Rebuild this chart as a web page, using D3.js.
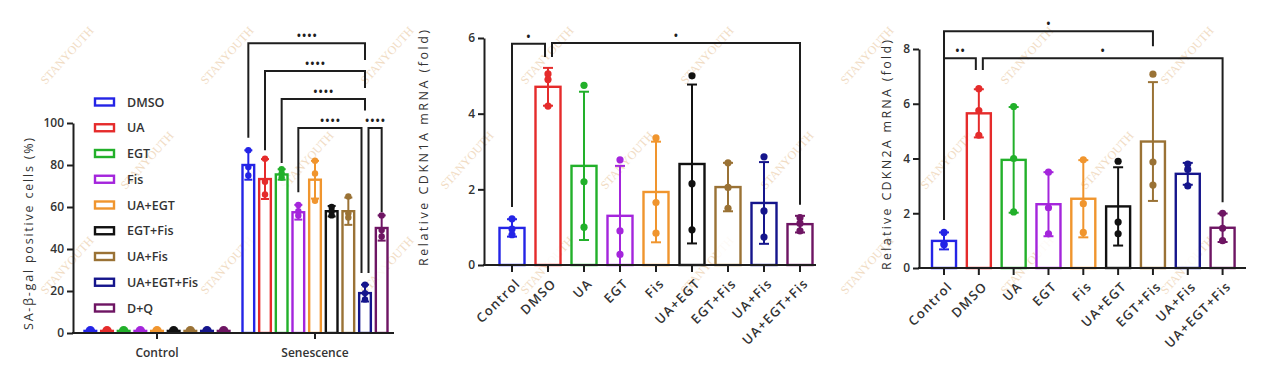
<!DOCTYPE html>
<html>
<head>
<meta charset="utf-8">
<script src="https://cdn.jsdelivr.net/npm/d3@7"></script>
<style>
  body { margin: 0; background: #fff; }
  svg { display: block; font-family: "Open Sans", sans-serif; }
</style>
</head>
<body>
<div id="chart"></div>
<script>
// ---- panel A: SA-beta-gal positive cells ----
const groupsA = ["Control", "Senescence"];
const treatA = ["DMSO", "UA", "EGT", "Fis", "UA+EGT", "EGT+Fis", "UA+Fis", "UA+EGT+Fis", "D+Q"];
const colorsA = ["#2424e6", "#e52b2b", "#22b02a", "#a425dc", "#f0952e", "#111111", "#9a7235", "#15158c", "#6e1563"];
const ctrlMeanA = [1, 1, 1, 1, 1, 1, 1, 1, 1];
const ctrlPtsA = [[1], [1], [1], [1], [1], [1], [1], [1], [1]];
const senMeanA = [80, 73.3, 75.5, 57.5, 73, 58, 58, 19, 50];
const senSdA = [7, 9.5, 2.5, 3.5, 9, 2.5, 6.5, 4, 6];
const senPtsA = [[87, 79, 75], [83, 72, 66], [78, 76, 74], [61, 58, 56], [82, 76, 63],
                 [60, 58, 56], [65, 57, 55], [23, 19, 16], [56, 49, 46]];
const ticksA = [0, 20, 40, 60, 80, 100];
// brackets: treatment index inside Senescence, bar height, leg ends
const sigA = [
  { a: 0, b: 7, y: 138, ya: 93, yb: 130, nb: 0, label: "••••" },
  { a: 1, b: 7, y: 124.8, ya: 87, yb: 116.7, nb: 0, label: "••••" },
  { a: 2, b: 7, y: 111.4, ya: 81, yb: 106, nb: 0, label: "••••" },
  { a: 3, b: 7, y: 97.6, ya: 67, yb: 28.6, nb: -3.5, label: "••••" },
  { a: 7, b: 8, y: 97.6, ya: 28.6, yb: 57.6, na: 3.5, label: "••••" }
];

// ---- panels B and C: mRNA ----
const catsBC = ["Control", "DMSO", "UA", "EGT", "Fis", "UA+EGT", "EGT+Fis", "UA+Fis", "UA+EGT+Fis"];
const colorsBC = ["#2424e6", "#e52b2b", "#22b02a", "#a425dc", "#f0952e", "#111111", "#9a7235", "#15158c", "#6e1563"];

const meanB = [0.98, 4.71, 2.62, 1.3, 1.93, 2.67, 2.06, 1.64, 1.08];
const sdB = [0.23, 0.5, 1.96, 1.32, 1.33, 2.1, 0.64, 1.08, 0.22];
const ptsB = [[1.22, 0.8, 0.95], [5.05, 4.9, 4.2], [4.75, 2.2, 1.0], [2.78, 0.9, 0.28], [3.36, 1.65, 0.84],
              [5.0, 2.15, 0.93], [2.7, 2.05, 1.5], [2.86, 1.43, 0.74], [1.25, 1.1, 0.9]];
const ticksB = [0, 2, 4, 6];
const sigB = [
  { a: 0, b: 1, y: 5.85, ya: 1.53, yb: 5.5, nb: -3, label: "•" },
  { a: 1, b: 8, y: 5.87, ya: 5.5, yb: 1.59, na: 4, label: "•" }
];

const meanC = [0.99, 5.65, 3.95, 2.33, 2.53, 2.25, 4.62, 3.44, 1.47];
const sdC = [0.31, 0.88, 1.93, 1.17, 1.41, 1.43, 2.17, 0.4, 0.52];
const ptsC = [[1.3, 0.85, 0.88], [6.55, 5.75, 4.85], [5.9, 4.0, 2.05], [3.5, 2.2, 1.25], [3.95, 2.35, 1.3],
              [3.9, 1.68, 1.25], [7.08, 3.87, 3.03], [3.8, 3.6, 3.0], [2.0, 1.45, 1.0]];
const ticksC = [0, 2, 4, 6, 8];
const sigC = [
  { a: 0, b: 6, y: 8.65, ya: 1.75, yb: 8.1, label: "•" },
  { a: 0, b: 1, y: 7.66, ya: 1.75, yb: 7.23, nb: -3, label: "••" },
  { a: 1, b: 8, y: 7.66, ya: 7.23, yb: 2.4, na: 4, label: "•" }
];

const ink = "#1e1e1e";
const txt = "#333";
const W = 1280, H = 388;

const svg = d3.select("#chart").append("svg")
  .attr("width", W)
  .attr("height", H);

// faint "STANYOUTH" watermark, kept fully inside the picture
const wm = svg.append("g").attr("fill", "#f1dcc4").attr("font-size", 12)
  .attr("font-family", "Liberation Serif, serif");
for (let r = 0; r < 4; r++) {
  const yy = 58 + r * 105;
  for (let xx = (r % 2 ? 150 : 70); xx < W; xx += 160) {
    wm.append("text").attr("transform", `translate(${xx},${yy}) rotate(-48)`)
      .attr("text-anchor", "middle").text("STANYOUTH");
  }
}
wm.selectAll("text").each(function () {
  const b = this.getBoundingClientRect();
  if (b.left < 1 || b.top < 1 || b.right > W - 1 || b.bottom > H - 1) d3.select(this).remove();
});

function drawY(g, y, x0, ticks, label, lx, ly, len) {
  const ax = g.append("g").attr("transform", `translate(${x0},0)`)
    .call(d3.axisLeft(y).tickValues(ticks).tickSize(6).tickSizeOuter(0).tickPadding(3)
      .tickFormat(d3.format("d")));
  ax.select(".domain").attr("stroke", ink).attr("stroke-width", 2);
  ax.selectAll(".tick line").attr("stroke", ink).attr("stroke-width", 2);
  ax.selectAll(".tick text").attr("fill", txt).attr("font-size", 12)
    .attr("font-family", "Open Sans, sans-serif").attr("font-weight", 600);
  g.append("text")
    .attr("transform", `translate(${lx},${ly}) rotate(-90)`)
    .attr("text-anchor", "middle")
    .attr("fill", txt).attr("font-size", 12.5)
    .attr("textLength", len).attr("lengthAdjust", "spacing")
    .text(label);
}

function drawBars(g, items, y, bw, capW, r) {
  const base = y(0);
  const bar = g.selectAll(null).data(items).enter().append("g");
  bar.append("rect")
    .attr("x", d => d.x - bw / 2)
    .attr("y", d => y(d.mean))
    .attr("width", bw)
    .attr("height", d => Math.max(0, base - y(d.mean)))
    .attr("fill", "#fff")
    .attr("fill-opacity", 0.85)
    .attr("stroke", d => d.color)
    .attr("stroke-width", 2.4);
  const eb = bar.filter(d => d.sd > 0);
  eb.append("line")
    .attr("x1", d => d.x).attr("x2", d => d.x)
    .attr("y1", d => y(Math.max(0, d.mean - d.sd))).attr("y2", d => y(d.mean + d.sd))
    .attr("stroke", d => d.color).attr("stroke-width", 2);
  eb.append("line")
    .attr("x1", d => d.x - capW / 2).attr("x2", d => d.x + capW / 2)
    .attr("y1", d => y(d.mean + d.sd)).attr("y2", d => y(d.mean + d.sd))
    .attr("stroke", d => d.color).attr("stroke-width", 2);
  eb.filter(d => d.mean - d.sd > 0).append("line")
    .attr("x1", d => d.x - capW / 2).attr("x2", d => d.x + capW / 2)
    .attr("y1", d => y(d.mean - d.sd)).attr("y2", d => y(d.mean - d.sd))
    .attr("stroke", d => d.color).attr("stroke-width", 2);
  bar.selectAll("circle").data(d => d.pts.map(p => ({ p, x: d.x, color: d.color }))).enter()
    .append("circle")
    .attr("cx", d => d.x).attr("cy", d => y(d.p)).attr("r", r)
    .attr("fill", d => d.color);
}

function drawSig(g, list, xOf, y, fs) {
  list.forEach(s => {
    const xa = xOf(s.a) + (s.na || 0), xb = xOf(s.b) + (s.nb || 0);
    g.append("path")
      .attr("d", `M${xa},${y(s.ya)}V${y(s.y)}H${xb}V${y(s.yb)}`)
      .attr("fill", "none").attr("stroke", ink).attr("stroke-width", 2);
    g.append("text")
      .attr("x", (xa + xb) / 2).attr("y", y(s.y) - 2)
      .attr("text-anchor", "middle").attr("fill", ink).attr("font-size", fs)
      .text(s.label);
  });
}

// ================= Panel A =================
{
  const g = svg.append("g");
  const y = d3.scaleLinear().domain([0, 100]).range([333, 123]);
  const x0 = 73, xEnd = 394;
  const outer = d3.scaleBand().domain(groupsA).range([78, 394]);
  const inner = d3.scaleBand().domain(treatA).range([0, outer.bandwidth()])
    .paddingInner(0.3).paddingOuter(0.39);
  const cx = (gname, t) => outer(gname) + inner(t) + inner.bandwidth() / 2;

  const items = [];
  treatA.forEach((t, i) => {
    items.push({ x: cx("Control", t), mean: ctrlMeanA[i], sd: 0, pts: ctrlPtsA[i], color: colorsA[i] });
  });
  treatA.forEach((t, i) => {
    items.push({ x: cx("Senescence", t), mean: senMeanA[i], sd: senSdA[i], pts: senPtsA[i], color: colorsA[i] });
  });
  svg.append("clipPath").attr("id", "clipA").append("rect")
    .attr("x", x0).attr("y", 0).attr("width", 400).attr("height", y(0));
  const plot = g.append("g").attr("clip-path", "url(#clipA)");
  drawBars(plot, items, y, inner.bandwidth(), 8, 4.8);
  // the Senescence points are smaller than the mounds at the baseline
  plot.selectAll("circle").filter(d => d.p > 5).attr("r", 3.2);

  drawSig(g, sigA, i => cx("Senescence", treatA[i]), y, 14);

  g.append("line").attr("x1", x0 - 1).attr("x2", xEnd).attr("y1", y(0)).attr("y2", y(0))
    .attr("stroke", ink).attr("stroke-width", 2);
  groupsA.forEach(gn => {
    const c = outer(gn) + outer.bandwidth() / 2;
    g.append("line").attr("x1", c).attr("x2", c).attr("y1", y(0)).attr("y2", y(0) + 6)
      .attr("stroke", ink).attr("stroke-width", 2);
    g.append("text").attr("x", c).attr("y", y(0) + 24).attr("text-anchor", "middle")
      .attr("fill", txt).attr("font-size", 12).attr("font-weight", 600).text(gn);
  });
  drawY(g, y, x0, ticksA, "SA-β-gal positive cells (%)", 33, 234, 192);

  // legend
  const lg = g.append("g").selectAll(null).data(treatA).enter().append("g")
    .attr("transform", (d, i) => `translate(94,${102 + i * 25.75})`);
  lg.append("rect").attr("x", 1).attr("y", -3.5).attr("width", 19).attr("height", 7)
    .attr("fill", "#fff").attr("stroke", (d, i) => colorsA[i]).attr("stroke-width", 2.4);
  lg.append("text").attr("x", 33).attr("dy", "0.36em").attr("fill", txt)
    .attr("font-size", 12.5).attr("font-weight", 600).text(d => d);
}

// ================= Panels B and C =================
function mrnaPanel(opt) {
  const g = svg.append("g");
  const y = d3.scaleLinear().domain([0, opt.ticks[opt.ticks.length - 1]]).range([opt.y0, opt.yTop]);
  const x = d3.scaleBand().domain(catsBC).range(opt.xr);
  const cx = c => x(c) + x.bandwidth() / 2;
  const items = catsBC.map((c, i) => ({ x: cx(c), mean: opt.mean[i], sd: opt.sd[i], pts: opt.pts[i], color: colorsBC[i] }));
  drawBars(g, items, y, opt.bw, 10, 3.6);
  drawSig(g, opt.sig, i => cx(catsBC[i]), y, 14);
  g.append("line").attr("x1", opt.x0 - 1).attr("x2", opt.xEnd).attr("y1", y(0)).attr("y2", y(0))
    .attr("stroke", ink).attr("stroke-width", 2);
  catsBC.forEach(c => {
    const px = cx(c);
    g.append("line").attr("x1", px).attr("x2", px).attr("y1", y(0)).attr("y2", y(0) + 7)
      .attr("stroke", ink).attr("stroke-width", 2);
    g.append("text")
      .attr("transform", `translate(${px + 6},${y(0) + 16}) rotate(-45)`)
      .attr("text-anchor", "end").attr("dy", "0.35em")
      .attr("fill", txt).attr("font-size", 13).attr("font-weight", 600)
      .attr("letter-spacing", "1.3px")
      .text(c);
  });
  drawY(g, y, opt.x0, opt.ticks, opt.label, opt.lx, opt.ly, opt.len);
}

mrnaPanel({
  mean: meanB, sd: sdB, pts: ptsB, sig: sigB, ticks: ticksB,
  y0: 265, yTop: 38, x0: 484, xEnd: 816, xr: [494, 818], bw: 25,
  label: "Relative CDKN1A mRNA (fold)", lx: 428, ly: 148, len: 236
});
mrnaPanel({
  mean: meanC, sd: sdC, pts: ptsC, sig: sigC, ticks: ticksC,
  y0: 268, yTop: 49, x0: 919, xEnd: 1246, xr: [926.6, 1240], bw: 24,
  label: "Relative CDKN2A mRNA (fold)", lx: 891, ly: 155, len: 230
});
</script>
</body>
</html>
